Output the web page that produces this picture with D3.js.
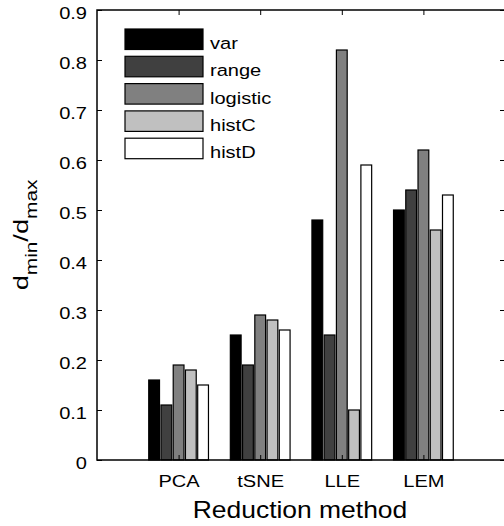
<!DOCTYPE html>
<html>
<head>
<meta charset="utf-8">
<script src="https://cdn.jsdelivr.net/npm/d3@7"></script>
<style>
  body { margin: 0; background: #fff; }
  text { font-family: "Liberation Sans", Arial, sans-serif; }
</style>
</head>
<body>
<div id="chart"></div>
<script>
// data
var methods = ["PCA", "tSNE", "LLE", "LEM"];
var seriesNames = ["var", "range", "logistic", "histC", "histD"];
var seriesColors = ["#000000", "#404040", "#808080", "#c0c0c0", "#ffffff"];
var varVals = [0.16, 0.25, 0.48, 0.50];
var rangeVals = [0.11, 0.19, 0.25, 0.54];
var logisticVals = [0.19, 0.29, 0.82, 0.62];
var histCVals = [0.18, 0.28, 0.10, 0.46];
var histDVals = [0.15, 0.26, 0.59, 0.53];
var yTicks = [0, 0.1, 0.2, 0.3, 0.4, 0.5, 0.6, 0.7, 0.8, 0.9];

var allSeries = [varVals, rangeVals, logisticVals, histCVals, histDVals];

var W = 504, H = 526;
var margin = { top: 10, right: -1, bottom: 66, left: 97 };
var width = W - margin.left - margin.right,
    height = H - margin.top - margin.bottom;
var sx = 1.18; // the original font runs wide

var svg = d3.select("#chart").append("svg")
  .attr("width", W)
  .attr("height", H);

var g = svg.append("g")
  .attr("transform", "translate(" + margin.left + "," + margin.top + ")");

// x is numeric like matlab: groups at 1..4, xlim [0,5]
var x = d3.scaleLinear().domain([0, 5]).range([0, width]);
var y = d3.scaleLinear().domain([0, 0.9]).range([height, 0]);

var groupW = 0.75;
var pitch = groupW / seriesNames.length;
var barW = pitch * 0.88;

// bars
allSeries.forEach(function (vals, s) {
  g.selectAll(".bar" + s)
    .data(vals)
    .enter()
    .append("rect")
    .attr("x", function (d, i) { return x(i + 1 - groupW / 2 + s * pitch + (pitch - barW) / 2); })
    .attr("width", x(barW) - x(0))
    .attr("y", function (d) { return y(d); })
    .attr("height", function (d) { return height - y(d); })
    .attr("fill", seriesColors[s])
    .attr("stroke", "#000")
    .attr("stroke-width", 1.2);
});

// box
g.append("rect")
  .attr("width", width).attr("height", height)
  .attr("fill", "none").attr("stroke", "#000").attr("stroke-width", 1.5);

// y axis (left + right inward ticks)
var yAxis = g.append("g")
  .call(d3.axisLeft(y).tickValues(yTicks).tickSizeInner(-5).tickSizeOuter(0)
    .tickFormat(function (d) { return d === 0 ? "0" : d3.format(".1f")(d); }));
yAxis.select(".domain").remove();
yAxis.selectAll("text")
  .attr("font-size", 17).attr("fill", "#000")
  .attr("font-family", "Liberation Sans, Arial, sans-serif")
  .attr("x", -10 / sx).attr("dy", 8.3)
  .attr("transform", "scale(" + sx + ",1)");

var yAxisR = g.append("g")
  .attr("transform", "translate(" + width + ",0)")
  .call(d3.axisRight(y).tickValues(yTicks).tickSizeInner(-5).tickSizeOuter(0).tickFormat(""));
yAxisR.select(".domain").remove();

// x axis (bottom + top)
var xAxis = g.append("g")
  .attr("transform", "translate(0," + height + ")")
  .call(d3.axisBottom(x).tickValues([1, 2, 3, 4]).tickSizeInner(-5).tickSizeOuter(0)
    .tickFormat(function (d) { return methods[d - 1]; }));
xAxis.select(".domain").remove();
xAxis.selectAll("text")
  .attr("font-size", 17).attr("fill", "#000")
  .attr("font-family", "Liberation Sans, Arial, sans-serif")
  .attr("y", 27).attr("dy", 0)
  .attr("transform", "scale(" + sx + ",1)");

var xAxisT = g.append("g")
  .call(d3.axisTop(x).tickValues([1, 2, 3, 4]).tickSizeInner(-5).tickSizeOuter(0).tickFormat(""));
xAxisT.select(".domain").remove();

// axis titles
svg.append("text")
  .attr("transform", "translate(" + (margin.left + x(2.5) - 1) + ",518) scale(1.15,1)")
  .attr("text-anchor", "middle")
  .attr("font-size", 23)
  .text("Reduction method");

var yl = svg.append("text")
  .attr("transform", "translate(28,235) rotate(-90) scale(1.3,1)")
  .attr("text-anchor", "middle")
  .attr("font-size", 21);
yl.append("tspan").text("d");
yl.append("tspan").attr("font-size", 16).attr("dy", 9).text("min");
yl.append("tspan").attr("dy", -9).text("/d");
yl.append("tspan").attr("font-size", 16).attr("dy", 9).text("max");

// legend
var legend = svg.append("g").attr("transform", "translate(125,29)");
seriesNames.forEach(function (name, i) {
  var row = legend.append("g").attr("transform", "translate(0," + (i * 27.3) + ")");
  row.append("rect")
    .attr("width", 78).attr("height", 20.5)
    .attr("fill", seriesColors[i]).attr("stroke", "#000").attr("stroke-width", 1.2);
  row.append("text")
    .attr("transform", "translate(85,20) scale(" + sx + ",1)")
    .attr("font-size", 17)
    .text(name);
});
</script>
</body>
</html>
